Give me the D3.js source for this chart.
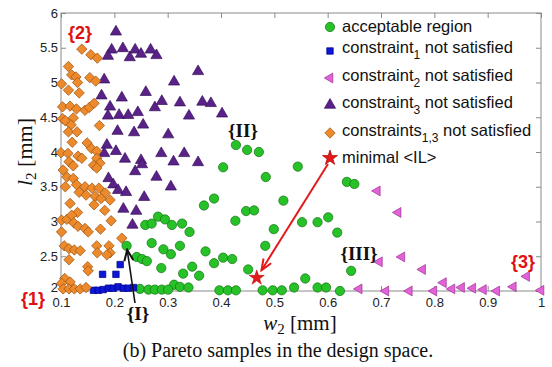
<!DOCTYPE html>
<html>
<head>
<meta charset="utf-8">
<script src="https://cdn.jsdelivr.net/npm/d3@7"></script>
<style>
body{margin:0;background:#fff}
svg{display:block}
.tick text{font-family:"Liberation Sans",Arial,sans-serif;font-size:13px;fill:#222}
.tick line{stroke:#8a8a8a}
</style>
</head>
<body>
<div id="chart"></div>
<script>
// values, [w2, l2] in mm
var acceptable = [
  [0.428,4.10],[0.449,4.03],[0.471,4.00],[0.404,3.78],[0.544,3.79],[0.484,3.64],
  [0.368,3.23],[0.387,3.33],[0.447,3.15],[0.462,3.16],[0.517,3.30],[0.427,3.01],
  [0.552,2.99],[0.581,2.99],[0.601,3.06],[0.308,2.95],[0.327,2.97],[0.341,2.85],
  [0.499,2.89],[0.483,2.65],[0.323,2.65],[0.306,2.53],[0.371,2.57],[0.404,2.48],
  [0.421,2.46],[0.387,2.40],[0.346,2.35],[0.329,2.25],[0.359,2.22],[0.451,2.31],
  [0.558,2.18],[0.537,2.05],[0.312,2.09],[0.323,2.06],[0.339,2.05],[0.397,2.01],
  [0.413,2.01],[0.428,2.01],[0.478,2.01],[0.497,2.01],[0.514,2.01],[0.581,2.05],
  [0.597,2.05],[0.636,3.57],[0.650,3.54],[0.618,2.84],[0.644,2.29],[0.623,2.00],
  [0.223,2.65],[0.258,2.95],[0.270,2.97],[0.282,3.07],[0.295,3.03],[0.270,2.69],
  [0.292,2.60],[0.242,2.49],[0.252,2.46],[0.261,2.43],[0.288,2.33],
  [0.248,2.03],[0.264,2.02],[0.276,2.02],[0.289,2.02],[0.301,2.02]
];
var constraint1 = [
  [0.211,2.38],[0.203,2.24],[0.178,2.24],[0.161,2.01],[0.170,2.01],[0.179,2.02],
  [0.189,2.04],[0.198,2.04],[0.207,2.06],[0.217,2.04],[0.226,2.04],[0.236,2.05]
];
var constraint2 = [
  [0.693,3.44],[0.732,3.13],[0.739,2.49],[0.697,2.42],[0.778,2.31],[0.817,2.12],
  [0.973,2.21],[0.948,2.06],[0.659,2.03],[0.709,2.00],[0.753,2.00],[0.799,2.00],
  [0.833,2.03],[0.851,2.05],[0.872,2.04],[0.892,2.02],[0.917,2.00],[1.000,2.01]
];
var constraint3 = [
  [0.203,5.73],[0.195,5.47],[0.216,5.49],[0.188,5.38],[0.229,5.36],[0.239,5.47],
  [0.250,5.41],[0.268,5.47],[0.279,5.39],[0.181,5.04],[0.312,5.01],[0.357,5.16],
  [0.176,4.81],[0.214,4.78],[0.259,4.86],[0.289,4.73],[0.276,4.64],[0.323,4.71],
  [0.365,4.72],[0.381,4.70],[0.192,4.65],[0.188,4.52],[0.209,4.53],[0.226,4.53],
  [0.244,4.57],[0.340,4.52],[0.402,4.55],[0.254,4.39],[0.206,4.30],[0.237,4.28],
  [0.301,4.25],[0.186,4.10],[0.203,4.01],[0.181,3.98],[0.220,3.90],[0.250,3.88],
  [0.288,3.98],[0.331,3.98],[0.311,3.86],[0.357,3.85],[0.252,3.82],[0.239,3.72],
  [0.279,3.64],[0.306,3.50],[0.189,3.62],[0.198,3.53],[0.207,3.45],[0.222,3.42],
  [0.256,3.35],[0.217,3.18],[0.241,3.15],[0.234,2.95]
];
var constraints13 = [
  [0.139,5.48],[0.156,5.40],[0.168,5.35],[0.114,5.23],[0.120,5.11],[0.128,5.08],
  [0.154,5.07],[0.165,5.02],[0.101,4.98],[0.131,5.00],[0.114,4.89],[0.134,4.85],
  [0.103,4.65],[0.117,4.66],[0.129,4.62],[0.145,4.60],[0.153,4.64],[0.162,4.70],
  [0.103,4.48],[0.108,4.45],[0.123,4.49],[0.119,4.39],[0.172,4.38],[0.114,4.29],
  [0.130,4.29],[0.121,4.14],[0.149,4.13],[0.157,4.05],[0.167,4.01],[0.100,3.99],
  [0.113,3.98],[0.132,3.94],[0.139,3.91],[0.167,3.91],[0.115,3.86],[0.123,3.80],
  [0.173,3.84],[0.161,3.81],[0.167,3.77],[0.104,3.74],[0.111,3.64],[0.123,3.62],
  [0.108,3.50],[0.129,3.53],[0.145,3.50],[0.158,3.48],[0.171,3.48],[0.183,3.41],
  [0.192,3.31],[0.134,3.42],[0.147,3.38],[0.164,3.36],[0.175,3.33],[0.117,3.26],
  [0.131,3.13],[0.162,3.24],[0.182,3.16],[0.101,3.02],[0.111,3.03],[0.120,3.09],
  [0.124,2.98],[0.132,2.93],[0.145,2.90],[0.151,2.85],[0.174,2.89],[0.194,3.01],
  [0.101,2.85],[0.214,2.76],[0.106,2.65],[0.115,2.61],[0.125,2.59],[0.136,2.58],
  [0.167,2.65],[0.190,2.65],[0.192,2.55],[0.168,2.55],[0.186,2.52],[0.115,2.45],
  [0.150,2.35],[0.151,2.29],[0.107,2.18],[0.117,2.13],[0.101,2.11],[0.104,2.03],
  [0.115,2.03],[0.125,2.03],[0.136,2.03],[0.147,2.05]
];
var minimalIL = [0.467,2.19];
var pointI = [0.223,2.65];
var xTicks = [0.1,0.2,0.3,0.4,0.5,0.6,0.7,0.8,0.9,1];
var yTicks = [2,2.5,3,3.5,4,4.5,5,5.5,6];
var legendItems = [
  {main:"acceptable region", sub:"", rest:""},
  {main:"constraint", sub:"1", rest:" not satisfied"},
  {main:"constraint", sub:"2", rest:" not satisfied"},
  {main:"constraint", sub:"3", rest:" not satisfied"},
  {main:"constraints", sub:"1,3", rest:" not satisfied"},
  {main:"minimal <IL>", sub:"", rest:""}
];

var W = 552, H = 367;
var margin = {top: 13, right: 11, bottom: 76, left: 61};
var x = d3.scaleLinear().domain([0.1, 1]).range([margin.left, W - margin.right]);
var y = d3.scaleLinear().domain([2, 6]).range([H - margin.bottom, margin.top]);

var svg = d3.select("#chart").append("svg").attr("width", W).attr("height", H);
var defs = svg.append("defs");
function arrowMarker(id, col) {
  defs.append("marker").attr("id", id)
    .attr("viewBox", "-12 -6 14 12").attr("markerWidth", 14).attr("markerHeight", 12)
    .attr("refX", 0).attr("refY", 0).attr("orient", "auto").attr("markerUnits", "userSpaceOnUse")
    .append("path").attr("d", "M-11,-4.5 L0,0 L-11,4.5")
    .attr("fill", "none").attr("stroke", col).attr("stroke-width", 2);
}
arrowMarker("redhead", "#e41a1a");
arrowMarker("blackhead", "#111");

// axes, ticks pointing inwards
var gx = svg.append("g").attr("transform", "translate(0," + y(2) + ")")
  .call(d3.axisBottom(x).tickValues(xTicks).tickSizeInner(-5).tickSizeOuter(0).tickPadding(7)
    .tickFormat(function(d){ return d === 1 ? "1" : d3.format(".1f")(d); }));
var gy = svg.append("g").attr("transform", "translate(" + x(0.1) + ",0)")
  .call(d3.axisLeft(y).tickValues(yTicks).tickSizeInner(-5).tickSizeOuter(0).tickPadding(3)
    .tickFormat(function(d){ return d % 1 === 0 ? d3.format("d")(d) : d3.format(".1f")(d); }));
gy.selectAll(".tick text").attr("dy", function(d){ return d === 2 ? "0.03em" : "0.32em"; });
var gt = svg.append("g").attr("transform", "translate(0," + y(6) + ")")
  .call(d3.axisTop(x).tickValues(xTicks).tickSizeInner(-5).tickSizeOuter(0).tickFormat(""));
var gr = svg.append("g").attr("transform", "translate(" + x(1) + ",0)")
  .call(d3.axisRight(y).tickValues(yTicks).tickSizeInner(-5).tickSizeOuter(0).tickFormat(""));
[gx, gy, gt, gr].forEach(function(g){ g.select(".domain").remove(); });

svg.append("rect")
  .attr("x", x(0.1)).attr("y", y(6))
  .attr("width", x(1) - x(0.1)).attr("height", y(2) - y(6))
  .attr("fill", "none").attr("stroke", "#8a8a8a").attr("stroke-width", 1);

// marker styles
var styles = [
  {data: acceptable, type: d3.symbolCircle, size: 68, rot: 0, fill: "#27c227", stroke: "#127012"},
  {data: constraint1, type: d3.symbolSquare, size: 42, rot: 0, fill: "#0b16d6", stroke: "#00008a"},
  {data: constraint2, type: d3.symbolTriangle, size: 42, rot: -90, fill: "#e262d8", stroke: "#9c3094"},
  {data: constraint3, type: d3.symbolTriangle, size: 54, rot: 0, fill: "#5a2288", stroke: "#36105a"},
  {data: constraints13, type: d3.symbolSquare, size: 54, rot: 45, fill: "#ec8a2c", stroke: "#9c5412"}
];

styles.forEach(function(s) {
  svg.append("g").selectAll("path").data(s.data).enter().append("path")
    .attr("d", d3.symbol().type(s.type).size(s.size))
    .attr("transform", function(d){ return "translate(" + x(d[0]) + "," + y(d[1]) + ") rotate(" + s.rot + ")"; })
    .attr("fill", s.fill).attr("stroke", s.stroke).attr("stroke-width", 0.7);
});

svg.append("path")
  .attr("d", d3.symbol().type(d3.symbolStar).size(70))
  .attr("transform", "translate(" + x(minimalIL[0]) + "," + y(minimalIL[1]) + ")")
  .attr("fill", "#e41a1a").attr("stroke", "#a00").attr("stroke-width", 0.5);

// legend
var legend = svg.append("g").attr("transform", "translate(330,0)");
var rowY = [27, 51, 78, 105, 133, 158];
var baseY = [32, 53, 81, 108, 136, 163];
styles.concat([{type: d3.symbolStar, size: 70, rot: 0, fill: "#e41a1a", stroke: "#a00"}]).forEach(function(s, i) {
  legend.append("path")
    .attr("d", d3.symbol().type(s.type).size(s.size))
    .attr("transform", "translate(0," + rowY[i] + ") rotate(" + s.rot + ")")
    .attr("fill", s.fill).attr("stroke", s.stroke).attr("stroke-width", 0.7);
  var t = legend.append("text").attr("x", 12).attr("y", baseY[i])
    .style("font-family", '"Liberation Sans",Arial,sans-serif').style("font-size", "16.5px").attr("fill", "#111");
  var it = legendItems[i];
  t.append("tspan").text(it.main);
  if (it.sub) {
    t.append("tspan").attr("dy", 6).style("font-size", "12px").text(it.sub);
    t.append("tspan").attr("dy", -6).text(it.rest);
  }
});

// red arrow from legend star to the minimal point
var sx = 328, sy = 164;
var px = x(minimalIL[0]), py = y(minimalIL[1]);
var len = Math.hypot(sx - px, sy - py);
svg.append("line")
  .attr("x1", sx).attr("y1", sy)
  .attr("x2", px + (sx - px) * 9 / len).attr("y2", py + (sy - py) * 9 / len)
  .attr("stroke", "#e41a1a").attr("stroke-width", 2)
  .attr("marker-end", "url(#redhead)");

// black arrow from {I} label to point I
var bx = 135, by = 303;
var qx = x(pointI[0]), qy = y(pointI[1]);
var len2 = Math.hypot(bx - qx, by - qy);
svg.append("line")
  .attr("x1", bx).attr("y1", by)
  .attr("x2", qx + (bx - qx) * 4 / len2).attr("y2", qy + (by - qy) * 4 / len2)
  .attr("stroke", "#111").attr("stroke-width", 1.6)
  .attr("marker-end", "url(#blackhead)");

// region labels
function redLabel(txt, cx, cy) {
  svg.append("text").attr("x", cx).attr("y", cy).attr("text-anchor", "middle")
    .style("font-family", '"Liberation Sans",Arial,sans-serif').style("font-size", "18px")
    .style("font-weight", "bold").attr("fill", "#e01010").text(txt);
}
redLabel("{2}", 80, 39);
redLabel("{1}", 33, 305);
redLabel("{3}", 523, 268);

function romanLabel(txt, cx, cy) {
  svg.append("text").attr("x", cx).attr("y", cy).attr("text-anchor", "middle")
    .style("font-family", '"Liberation Serif","Times New Roman",serif').style("font-size", "19px")
    .style("font-weight", "bold").attr("fill", "#111").text(txt);
}
romanLabel("{II}", 243, 137);
romanLabel("{III}", 359, 260);
romanLabel("{I}", 138, 320);

// axis titles
var xl = svg.append("text").attr("x", 300).attr("y", 330).attr("text-anchor", "middle")
  .style("font-family", '"Liberation Serif","Times New Roman",serif').style("font-size", "21px").attr("fill", "#111");
xl.append("tspan").style("font-style", "italic").text("w");
xl.append("tspan").attr("dy", 4).style("font-size", "15px").text("2");
xl.append("tspan").attr("dy", -4).text(" [mm]");

var yl = svg.append("text").attr("transform", "translate(32,152) rotate(-90)").attr("text-anchor", "middle")
  .style("font-family", '"Liberation Serif","Times New Roman",serif').style("font-size", "22px").attr("fill", "#111");
yl.append("tspan").style("font-style", "italic").text("l");
yl.append("tspan").attr("dy", 4).style("font-size", "15px").text("2");
yl.append("tspan").attr("dy", -4).text(" [mm]");

// caption
svg.append("text").attr("x", 278).attr("y", 357).attr("text-anchor", "middle")
  .style("font-family", '"Liberation Serif","Times New Roman",serif').style("font-size", "20px").attr("fill", "#111")
  .text("(b) Pareto samples in the design space.");
</script>
</body>
</html>
